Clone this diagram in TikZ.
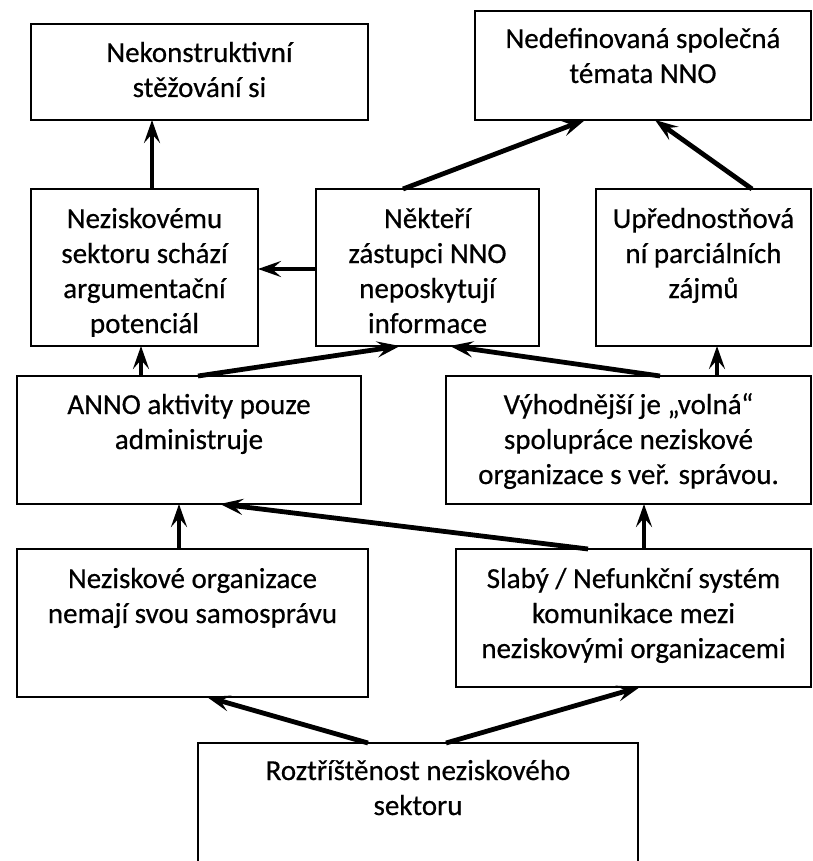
\documentclass[tikz,border=0pt]{standalone}
\usepackage{fontspec}
\setmainfont{Carlito}
\newfontfamily\boxfont{Carlito}[FakeBold=0.5]
\usetikzlibrary{arrows.meta}

% multi-line centred text whose base anchor is the first baseline
\newcommand\boxlines[1]{\begin{tabular}[t]{@{}c@{}}#1\end{tabular}}

\begin{document}
\begin{tikzpicture}[x=1pt,y=-1pt,
  box/.style={draw, line width=1.7pt, anchor=north west, inner sep=0pt, outer sep=0pt},
  txt/.style={anchor=base, inner sep=0pt, font=\boxfont\fontsize{29}{35}\selectfont},
  arr/.style={line width=4.8pt, -{Stealth[length=23pt,width=16pt,inset=9pt]}}]

\clip (0,0) rectangle (812,861);
\fill[white] (0,0) rectangle (812,861);

% boxes
\node[box, minimum width=337pt, minimum height=96pt]  (n1)  at (31,24)   {};
\node[box, minimum width=336pt, minimum height=109pt] (n2)  at (475,11)  {};
\node[box, minimum width=227pt, minimum height=157pt] (n3)  at (31,189)  {};
\node[box, minimum width=223pt, minimum height=157pt] (n4)  at (316,189) {};
\node[box, minimum width=215pt, minimum height=157pt] (n5)  at (596,189) {};
\node[box, minimum width=344pt, minimum height=128pt] (n6)  at (17,376)  {};
\node[box, minimum width=365pt, minimum height=128pt] (n7)  at (446,376) {};
\node[box, minimum width=351pt, minimum height=148pt] (n8)  at (17,549)  {};
\node[box, minimum width=355pt, minimum height=138pt] (n9)  at (456,549) {};
\node[box, minimum width=440pt, minimum height=150pt] (n10) at (198,743) {};

% texts
\node[txt] (t1) at ([yshift=-38pt]n1.north) {\boxlines{Nekonstruktivní\\stěžování si}};
\node[txt] (t2) at ([yshift=-37pt]n2.north) {\boxlines{Nedefinovaná společná\\témata NNO}};
\begin{scope}
  \clip ([xshift=2pt,yshift=-2pt]n3.north west) rectangle ([xshift=-2pt,yshift=10pt]n3.south east);
  \node[txt] (t3) at ([yshift=-39pt]n3.north) {\boxlines{Neziskovému\\sektoru schází\\argumentační\\potenciál}};
\end{scope}
\node[txt] (t4) at ([yshift=-39pt]n4.north) {\boxlines{Někteří\\zástupci NNO\\neposkytují\\informace}};
\node[txt] (t5) at ([yshift=-39pt]n5.north) {\boxlines{Upřednostňová\\ní parciálních\\zájmů}};
\node[txt] (t6) at ([yshift=-38pt]n6.north) {\boxlines{ANNO aktivity pouze\\administruje}};
\node[txt] (t7) at ([yshift=-38pt]n7.north) {\boxlines{Výhodnější je „volná“\\spolupráce neziskové\\organizace s veř. správou.}};
\node[txt] (t8) at ([yshift=-39pt]n8.north) {\boxlines{Neziskové organizace\\nemají svou samosprávu}};
\node[txt] (t9) at ([yshift=-39pt]n9.north) {\boxlines{Slabý / Nefunkční systém\\komunikace mezi\\neziskovými organizacemi}};
\node[txt] (t10) at ([yshift=-37pt]n10.north) {\boxlines{Roztříštěnost neziskového\\sektoru}};

% connectors
\draw[arr] ([xshift=121pt]n3.north west) -- ([xshift=121pt]n1.south west);
\draw[arr] ([yshift=-80pt]n4.north west) -- ([yshift=-80pt]n3.north east);
\draw[arr] ([xshift=87pt]n4.north west)  -- ([xshift=110pt]n2.south west);
\draw[arr] ([xshift=156pt]n5.north west) -- ([xshift=180pt]n2.south west);
\draw[arr] ([xshift=124pt]n6.north west) -- ([xshift=110pt]n3.south west);
\draw[arr] ([xshift=181pt]n6.north west) -- ([xshift=84pt]n4.south west);
\draw[arr] ([xshift=214pt]n7.north west) -- ([xshift=134pt]n4.south west);
\draw[arr] ([xshift=271pt]n7.north west) -- ([xshift=121pt]n5.south west);
\draw[arr] ([xshift=162pt]n8.north west) -- ([xshift=162pt]n6.south west);
\draw[arr] ([xshift=132pt]n9.north west) -- ([xshift=203pt]n6.south west);
\draw[arr] ([xshift=188pt]n9.north west) -- ([xshift=198pt]n7.south west);
\draw[arr] ([xshift=170pt]n10.north west) -- ([xshift=190pt]n8.south west);
\draw[arr] ([xshift=248pt]n10.north west) -- ([xshift=184pt]n9.south west);
\end{tikzpicture}
\end{document}
